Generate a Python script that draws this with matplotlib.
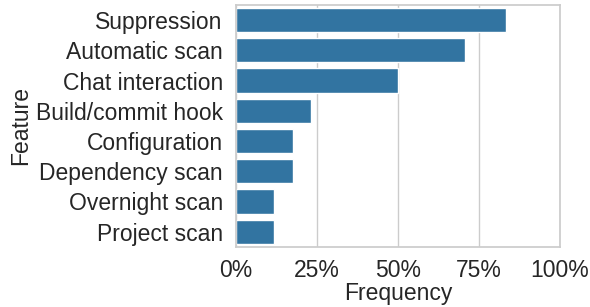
import matplotlib
matplotlib.use("Agg")
import matplotlib.pyplot as plt
import seaborn as sns
import pandas as pd
from matplotlib.ticker import PercentFormatter

features = ["Suppression", "Automatic scan", "Chat interaction", "Build/commit hook",
            "Configuration", "Dependency scan", "Overnight scan", "Project scan"]
frequency = [0.833, 0.706, 0.50, 0.233, 0.175, 0.175, 0.117, 0.117]

df = pd.DataFrame({"Feature": features, "Frequency": frequency})

sns.set_theme(style="whitegrid")
plt.rcParams['font.family'] = ['Liberation Sans', 'DejaVu Sans']

fig = plt.figure(figsize=(5.9, 3.07), dpi=100)
ax = fig.add_axes([0.4, 0.196, 0.549, 0.788])
sns.barplot(data=df, x="Frequency", y="Feature", color="#1f77b4", ax=ax)

ax.set_xlim(0, 1)
ax.xaxis.set_major_formatter(PercentFormatter(1.0, decimals=0))
ax.set_xticks([0, 0.25, 0.5, 0.75, 1.0])
ax.tick_params(axis='both', labelsize=16.5, colors='#262626')
ax.tick_params(axis='x', pad=3)
ax.set_xlabel("Frequency", fontsize=16.5, color='#262626', labelpad=0)
ax.set_ylabel("Feature", fontsize=16.5, color='#262626', labelpad=3)

fig.savefig("out.png", dpi=100)
